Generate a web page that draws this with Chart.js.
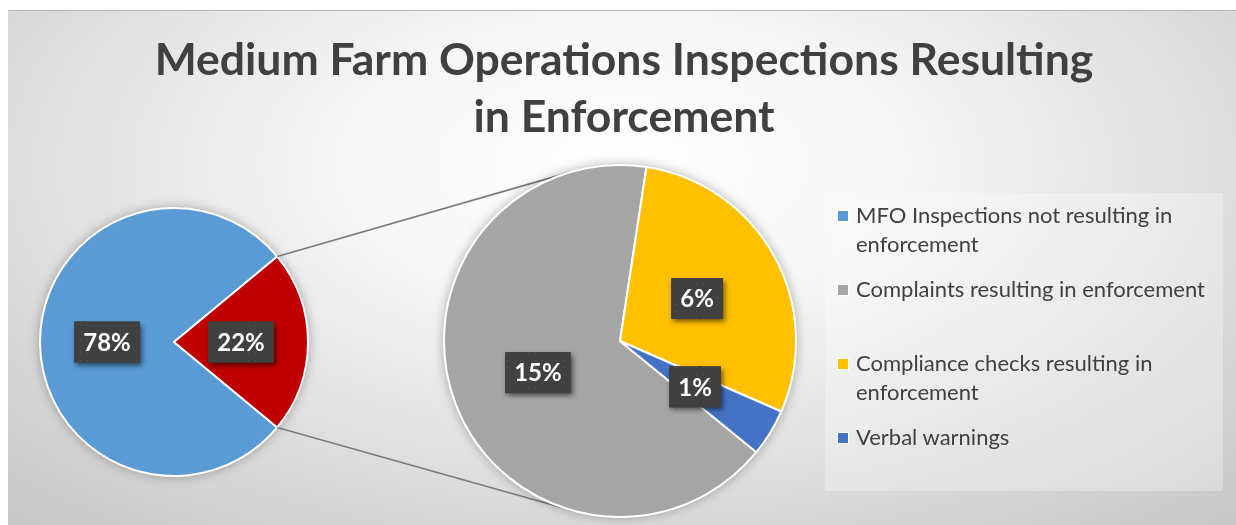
<!DOCTYPE html>
<html>
<head>
<meta charset="utf-8">
<script src="https://cdn.jsdelivr.net/npm/chart.js@4.4.0/dist/chart.umd.min.js"></script>
<style>
  body { margin: 0; width: 1236px; height: 525px; overflow: hidden; background: #fff; font-family: Lato, sans-serif; position: relative; }
  #frame {
    position: absolute; left: 8px; top: 10px; width: 1228px; height: 515px; box-sizing: border-box;
    border-top: 1px solid #b9b9b9;
    background: radial-gradient(ellipse 75% 95% at 50% 30%, #ffffff 0%, #f6f6f6 30%, #dedede 65%, #c6c6c6 100%);
  }
  canvas { position: absolute; left: 0; top: 0; }
  #title {
    position: absolute; left: 0; top: 29px; width: 1248px; text-align: center;
    font-weight: 700; font-size: 44.5px; line-height: 57px; color: #404040;
  }
  #legendBox {
    position: absolute; left: 825px; top: 193px; width: 398px; height: 298px;
    background: rgba(255,255,255,0.3);
  }
  .item { position: absolute; left: 856px; width: 366px; font-size: 22px; line-height: 28.5px; color: #404040; }
  .sq { position: absolute; left: -19px; top: 9px; width: 10px; height: 10px; border: 1px solid #fff; }
</style>
</head>
<body>
<div id="frame"></div>
<canvas id="mainPie" width="1236" height="525"></canvas>
<canvas id="detailPie" width="1236" height="525"></canvas>
<div id="title">Medium Farm Operations Inspections Resulting<br>in Enforcement</div>
<div id="legendBox"></div>
<div id="legend"></div>
<script>
// main pie: share of MFO inspections
const mainLabels = ["MFO Inspections not resulting in enforcement", "Resulting in enforcement"];
const mainValues = [78, 22];
const mainColors = ["#5B9BD5", "#C00000"];

// second pie: breakdown of the enforcement share
const detailLabels = ["Complaints resulting in enforcement", "Compliance checks resulting in enforcement", "Verbal warnings"];
const detailValues = [14.6, 6.4, 0.95];
const detailColors = ["#A5A5A5", "#FFC000", "#4472C4"];

const legendLabels = [mainLabels[0]].concat(detailLabels);
const legendColors = [mainColors[0]].concat(detailColors);

const grandTotal = mainValues.reduce((a, b) => a + b, 0);

// little dotted texture for the label boxes
const dotCanvas = document.createElement("canvas");
dotCanvas.width = 7; dotCanvas.height = 7;
const dctx = dotCanvas.getContext("2d");
dctx.fillStyle = "#404040";
dctx.fillRect(0, 0, 7, 7);
dctx.fillStyle = "#555555";
dctx.fillRect(3, 3, 1, 1);

const boxLabels = {
  id: "boxLabels",
  afterDatasetsDraw(chart) {
    const ctx = chart.ctx;
    const values = chart.data.datasets[0].data;
    const pattern = ctx.createPattern(dotCanvas, "repeat");
    chart.getDatasetMeta(0).data.forEach((arc, i) => {
      const p = arc.getProps(["x", "y", "startAngle", "endAngle", "outerRadius"]);
      const mid = (p.startAngle + p.endAngle) / 2;
      const cx = p.x + Math.cos(mid) * p.outerRadius * 0.5;
      const cy = p.y + Math.sin(mid) * p.outerRadius * 0.5;
      const text = Math.round(values[i] / grandTotal * 100) + "%";
      ctx.save();
      ctx.font = "bold 24px Lato";
      const w = ctx.measureText(text).width + 18;
      const h = 41;
      ctx.shadowColor = "rgba(0,0,0,0.55)";
      ctx.shadowBlur = 5;
      ctx.shadowOffsetX = 2;
      ctx.shadowOffsetY = 3;
      ctx.fillStyle = "#404040";
      ctx.fillRect(cx - w / 2, cy - h / 2, w, h);
      ctx.shadowColor = "transparent";
      ctx.fillStyle = pattern;
      ctx.fillRect(cx - w / 2, cy - h / 2, w, h);
      ctx.fillStyle = "#ffffff";
      ctx.textAlign = "center";
      ctx.textBaseline = "middle";
      ctx.fillText(text, cx, cy + 1);
      ctx.restore();
    });
  }
};

// soft shadow under a pie
function pieShadow(chart) {
  const arc = chart.getDatasetMeta(0).data[0];
  const p = arc.getProps(["x", "y", "outerRadius"]);
  const ctx = chart.ctx;
  ctx.save();
  ctx.shadowColor = "rgba(0,0,0,0.35)";
  ctx.shadowBlur = 12;
  ctx.fillStyle = "#ffffff";
  ctx.beginPath();
  ctx.arc(p.x, p.y, p.outerRadius, 0, Math.PI * 2);
  ctx.fill();
  ctx.restore();
}

function pieOptions(rotation, padding) {
  return {
    responsive: false,
    animation: false,
    rotation: rotation,
    layout: { padding: padding },
    plugins: { legend: { display: false }, tooltip: { enabled: false }, title: { display: false } }
  };
}

const mainChart = new Chart(document.getElementById("mainPie"), {
  type: "pie",
  data: {
    labels: mainLabels,
    datasets: [{ data: mainValues, backgroundColor: mainColors, borderColor: "#ffffff", borderWidth: 2 }]
  },
  options: pieOptions(129.6, { left: 39, top: 207, right: 927, bottom: 48 }),
  plugins: [{ id: "shadowMain", beforeDatasetsDraw: pieShadow }, boxLabels]
});

// connector lines from the red slice to the second pie
const connectors = {
  id: "connectors",
  beforeDatasetsDraw(chart) {
    const ctx = chart.ctx;
    const red = mainChart.getDatasetMeta(0).data[1].getProps(["x", "y", "startAngle", "endAngle", "outerRadius"]);
    const c = chart.getDatasetMeta(0).data[0].getProps(["x", "y", "outerRadius"]);
    const ends = [[red.startAngle, 1], [red.endAngle, -1]];
    ctx.save();
    ctx.strokeStyle = "#7a7a7a";
    ctx.lineWidth = 1.6;
    ends.forEach(([ang, side]) => {
      const px = red.x + Math.cos(ang) * red.outerRadius;
      const py = red.y + Math.sin(ang) * red.outerRadius;
      const d = Math.hypot(px - c.x, py - c.y);
      const base = Math.atan2(py - c.y, px - c.x);
      const t = base + side * Math.acos(c.outerRadius / d);
      ctx.beginPath();
      ctx.moveTo(px, py);
      ctx.lineTo(c.x + Math.cos(t) * c.outerRadius, c.y + Math.sin(t) * c.outerRadius);
      ctx.stroke();
    });
    ctx.restore();
    pieShadow(chart);
  }
};

const detailChart = new Chart(document.getElementById("detailPie"), {
  type: "pie",
  data: {
    labels: detailLabels,
    datasets: [{ data: detailValues, backgroundColor: detailColors, borderColor: "#ffffff", borderWidth: 2 }]
  },
  options: pieOptions(129.2, { left: 443, top: 164, right: 439, bottom: 7 }),
  plugins: [connectors, boxLabels]
});

// legend
const legend = document.getElementById("legend");
legendLabels.forEach((lab, i) => {
  const div = document.createElement("div");
  div.className = "item";
  div.style.top = (201 + i * 74) + "px";
  div.innerHTML = '<span class="sq" style="background:' + legendColors[i] + '"></span>' + lab;
  legend.appendChild(div);
});
</script>
</body>
</html>
